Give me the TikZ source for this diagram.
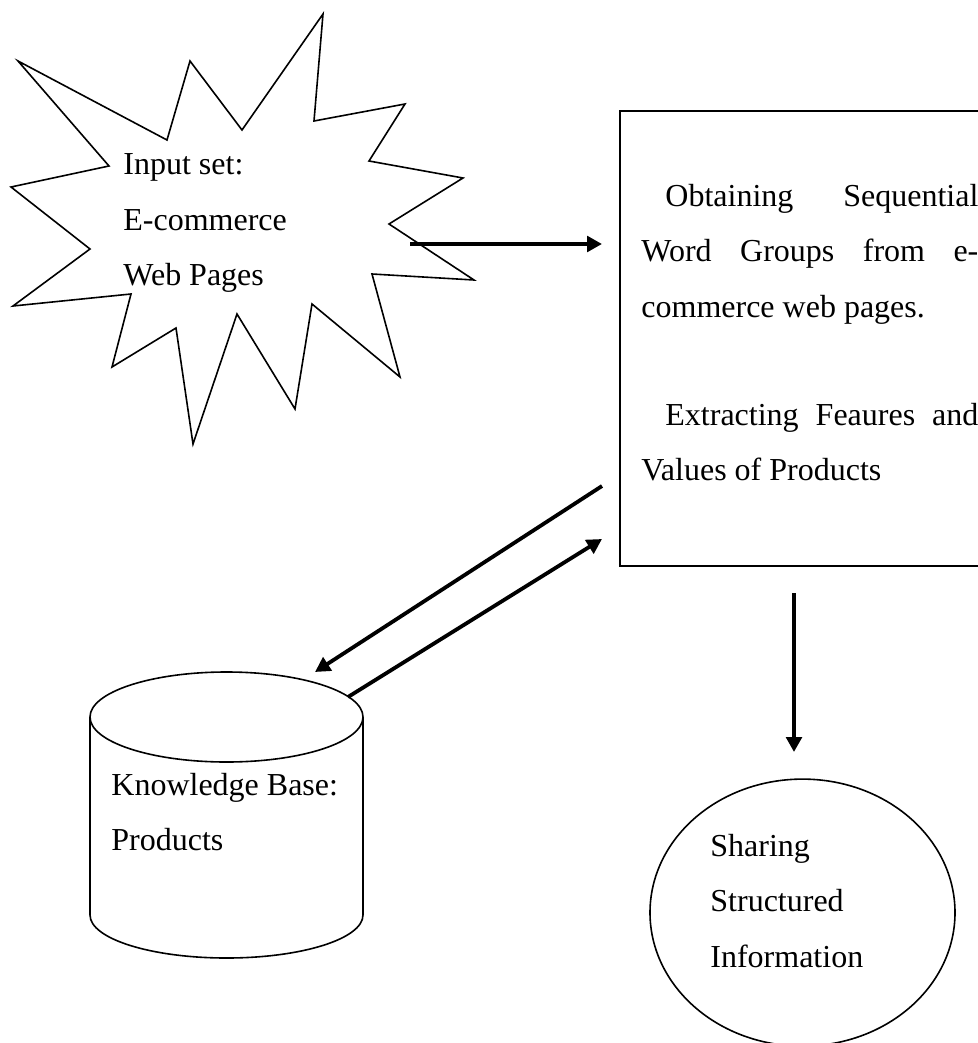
\documentclass[tikz,border=0pt]{standalone}
\usepackage{fontspec}
\setmainfont{Liberation Serif}
\usetikzlibrary{arrows.meta,shapes.geometric}
\begin{document}
\begin{tikzpicture}[x=0.5pt,y=-0.5pt,
  thinline/.style={line width=0.8pt, line join=miter},
  flow/.style={line width=1.9pt, -{Triangle[length=7.5pt,width=7.8pt]}},
  txt/.style={anchor=base west, inner sep=0pt, font=\fontsize{16}{27.75}\selectfont},
]
\useasboundingbox (0,0) rectangle (978,1043);

% input set: starburst outline
\draw[thinline] (323,14) -- (314,121) -- (405,104) -- (369,161) -- (463,178)
  -- (389,224) -- (474,280) -- (372,274) -- (400,377) -- (312,304)
  -- (295,409) -- (237,314) -- (193,444) -- (176,328) -- (112,367)
  -- (131,294) -- (13,306) -- (90,249) -- (11,187) -- (109,166)
  -- (18,61) -- (167,140) -- (190,61) -- (242,130) -- cycle;
\node[txt] (burstlbl) at (123,175) {\parbox[t]{140pt}{Input set:\\E-commerce\\Web Pages}};

% processing box
\node[draw, thinline, anchor=north west, inner sep=0pt,
      minimum width=190pt, minimum height=227.5pt] (proc) at (619,110) {};
\node[txt] (proctext) at (641,206) {\parbox[t]{168.5pt}{%
  \setlength{\parindent}{12pt}\setlength{\parskip}{26.25pt}%
  \indent Obtaining Sequential\linebreak Word Groups from e-\linebreak
  commerce web pages.\par
  Extracting Feaures and\linebreak Values of Products}};

% knowledge base cylinder
\draw[thinline] (90,717) -- (90,915)
  arc[start angle=180, end angle=360, x radius=68.25pt, y radius=21.5pt]
  -- (363,717);
\node[draw, thinline, ellipse, inner sep=0pt,
      minimum width=136.5pt, minimum height=45pt] (kbtop) at (226.5,717) {};
\node[txt] (kblbl) at (111,795) {\parbox[t]{140pt}{Knowledge Base:\\Products}};

% output ellipse
\node[draw, thinline, ellipse, inner sep=0pt,
      minimum width=152.5pt, minimum height=133.5pt] (share) at (802.5,912.6) {};
\node[txt] (sharelbl) at (710,856) {\parbox[t]{140pt}{Sharing\\Structured\\Information}};

% connector end points
\coordinate (inS) at (410,244);
\coordinate (inE) at (602,244);
\coordinate (toKbS) at (602,486);
\coordinate (toKbE) at (315,672);
\coordinate (fromKbS) at (348,697);
\coordinate (fromKbE) at (602,539);
\coordinate (outS) at (794,593);
\coordinate (outE) at (794,752);

\draw[flow] (inS) -- (inE);
\draw[flow] (toKbS) -- (toKbE);
\draw[flow] (fromKbS) -- (fromKbE);
\draw[flow] (outS) -- (outE);
\end{tikzpicture}
\end{document}
